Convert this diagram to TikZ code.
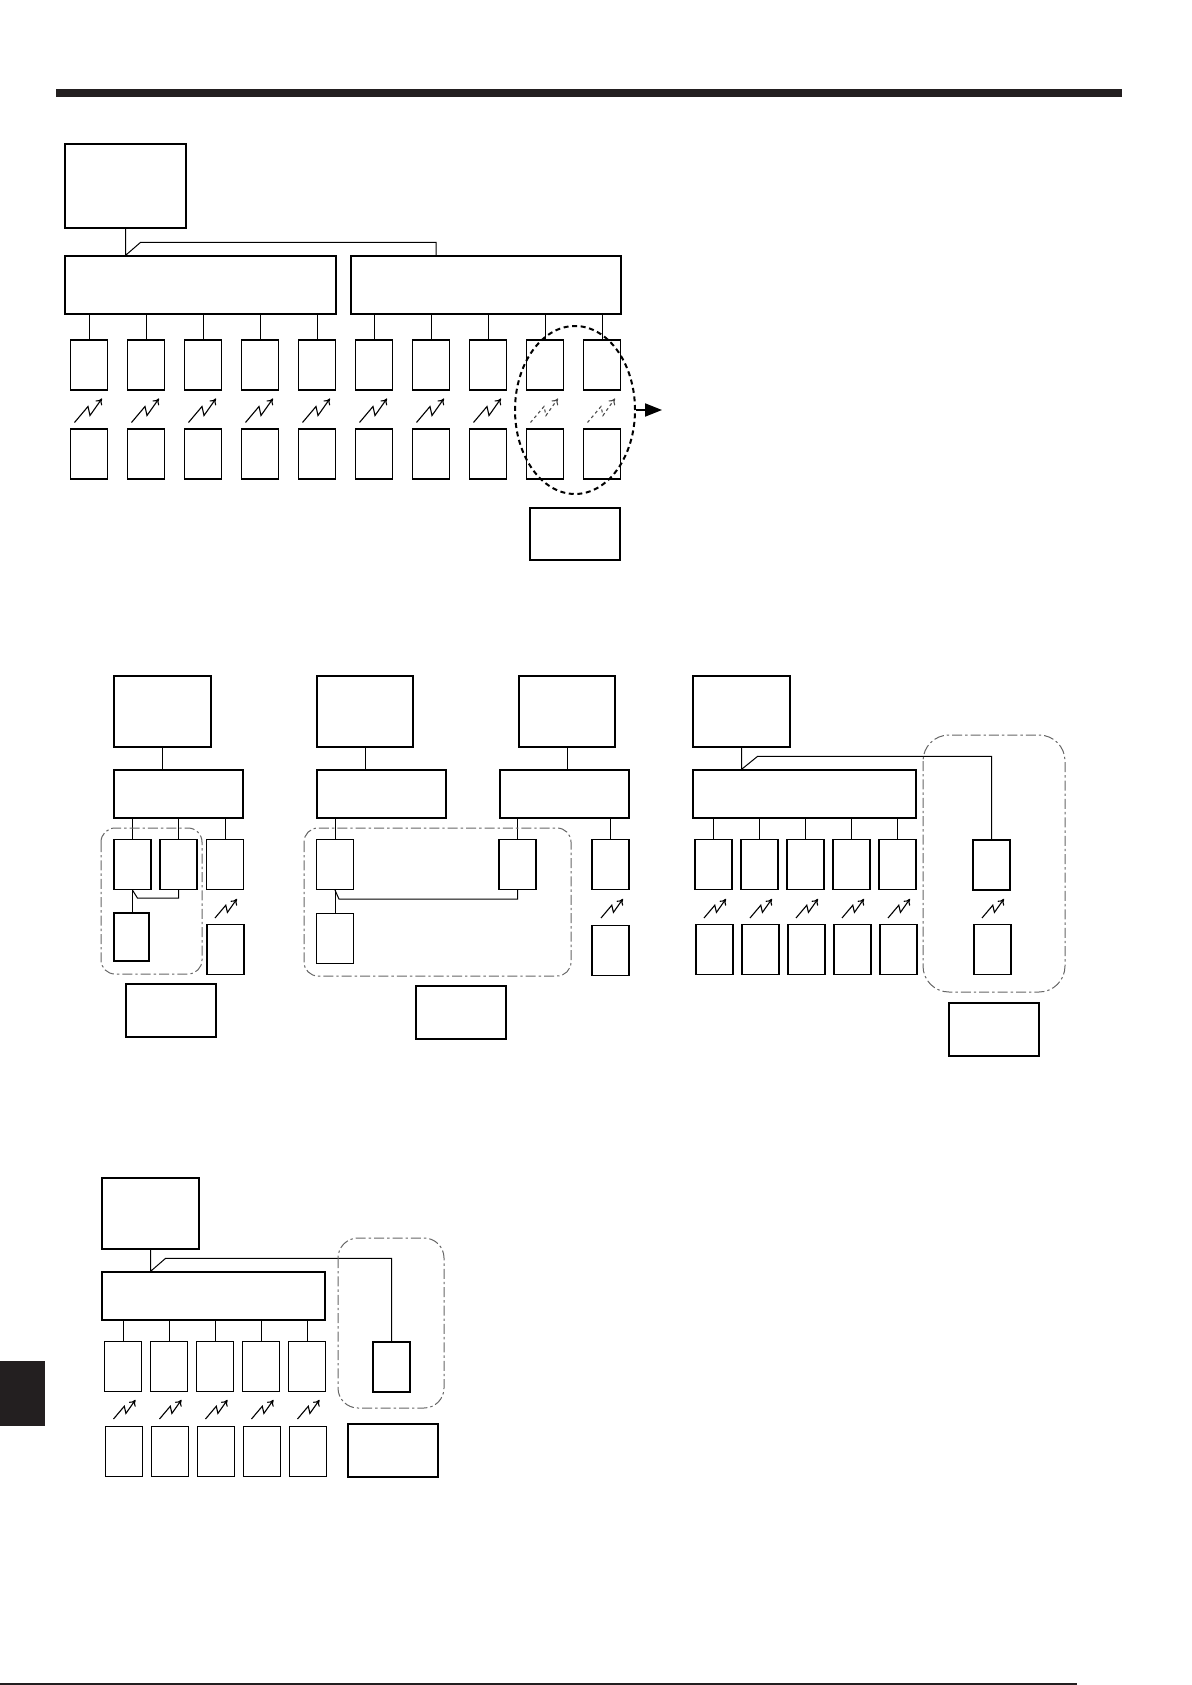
\documentclass[tikz,border=0pt]{standalone}
\usetikzlibrary{arrows.meta, shapes.geometric}
\definecolor{ink}{HTML}{231F20}
\tikzset{
    box/.style 2 args={draw, line width=0.6pt, inner sep=0pt, minimum width=#1*0.5pt, minimum height=#2*0.5pt},
    unit/.style={box={37}{50}},
    wire/.style={line width=0.5pt},
    group/.style={draw=black!60, line width=0.5pt, dash pattern=on 5pt off 1.5pt on 1.2pt off 1.5pt},
    radio/.pic={\draw[line width=0.55pt, -{To[length=3pt, width=4pt]}] (0,0) -- (13.5,-16) -- (15.5,-7) -- (27.5,-24);}
}
\begin{document}
\begin{tikzpicture}[x=0.5pt, y=-0.5pt]
\useasboundingbox (0,0) rectangle (1192,1685);
\fill[ink] (56,89) rectangle (1122,97);
\fill[ink] (0,1361) rectangle (45,1426);
\draw[ink, line width=0.8pt] (0,1684) -- (1077,1684);

\node[box={121}{84}] (ctrl1) at (125.5,186) {};
\node[box={271}{58}] (bigA) at (200.5,285) {};
\node[box={270}{58}] (bigB) at (486,285) {};
\coordinate (inB) at (436,256);
\draw[wire] (ctrl1.south) -- (ctrl1.south |- bigA.north) -- ++(15,-13) -| (inB);
\foreach \i in {0,...,9} {
    \node[unit] (u\i) at ({89+57*\i},365) {};
    \node[unit] (l\i) at ({89+57*\i},454) {};
}
\foreach \i in {0,...,4} \draw[wire] (u\i.north) -- (u\i.north |- bigA.south);
\foreach \i in {5,...,9} \draw[wire] (u\i.north) -- (u\i.north |- bigB.south);
\foreach \i in {0,...,7} \pic at ({74.5+57*\i},422.5) {radio};
\foreach \i in {8,9} \pic[black!70, dash pattern=on 1.5pt off 1.5pt] at ({74.5+57*\i},422.5) {radio};
\node[ellipse, draw, line width=1pt, dash pattern=on 2.5pt off 1.8pt, inner sep=0pt,
    minimum width=60pt, minimum height=84pt] (grp1) at (575,410) {};
\coordinate (out1) at (662,410);
\draw[line width=1pt, -{Triangle[length=8.5pt, width=6.5pt]}] (grp1.east) -- (out1);
\node[box={90}{52}] (lab1) at (575,534) {};

\node[box={97}{71}] (topA) at (162.5,711.5) {};
\node[box={129}{48}] (midA) at (178.5,794) {};
\node[unit] (A1) at (132.5,864.5) {};
\node[unit] (A2) at (178.5,864.5) {};
\node[unit] (A3) at (225,864.5) {};
\node[box={35}{48}] (A4) at (131.5,937) {};
\node[unit] (A5) at (225.5,949.5) {};
\draw[wire] (topA.south) -- (topA.south |- midA.north);
\foreach \n in {A1,A2,A3} \draw[wire] (\n.north) -- (\n.north |- midA.south);
\draw[wire] (A1.south) -- (A1.south |- A4.north);
\draw[wire] (A1.south) -- ++(5,8) -| (A2.south);
\pic[scale=0.8] at (215,918) {radio};
\draw[group, rounded corners=7pt] (101,828) rectangle (202,974);
\node[box={90}{53}] (labA) at (171,1010.5) {};

\node[box={96}{71}] (topB) at (365,711.5) {};
\node[box={129}{48}] (midB) at (381.5,794) {};
\node[box={96}{71}] (topC) at (567,711.5) {};
\node[box={129}{48}] (midC) at (564.5,794) {};
\node[unit] (B1) at (335,864.5) {};
\node[unit] (B2) at (335,938.5) {};
\node[unit] (C1) at (517.5,864.5) {};
\node[unit] (C2) at (610.5,864.5) {};
\node[unit] (C3) at (610.5,950.5) {};
\draw[wire] (topB.south) -- (topB.south |- midB.north);
\draw[wire] (topC.south) -- (topC.south |- midC.north);
\draw[wire] (B1.north) -- (B1.north |- midB.south);
\foreach \n in {C1,C2} \draw[wire] (\n.north) -- (\n.north |- midC.south);
\draw[wire] (B1.south) -- (B1.south |- B2.north);
\draw[wire] (B1.south) -- ++(4,9) -| (C1.south);
\pic[scale=0.8] at (601,918) {radio};
\draw[group, rounded corners=7pt] (304,828) rectangle (571,976);
\node[box={90}{53}] (labB) at (461,1012.5) {};

\node[box={97}{71}] (topD) at (741.5,711.5) {};
\node[box={223}{48}] (midD) at (804.5,794) {};
\foreach \i in {0,...,4} {
    \node[unit] (Du\i) at ({713.5+46*\i},864.5) {};
    \node[unit] (Dl\i) at ({714.5+46*\i},949.5) {};
    \draw[wire] (Du\i.north) -- (Du\i.north |- midD.south);
    \pic[scale=0.8] at ({704+46*\i},918) {radio};
}
\node[unit] (D6u) at (991.5,865) {};
\node[unit] (D6l) at (992.5,949.5) {};
\draw[wire] (topD.south) -- (topD.south |- midD.north) -- ++(16,-13) -| (D6u.north);
\pic[scale=0.8] at (982,918) {radio};
\draw[group, rounded corners=13pt] (923,735) rectangle (1065,992);
\node[box={90}{53}] (labD) at (994,1029.5) {};

\node[box={97}{71}] (topE) at (150.5,1213.5) {};
\node[box={223}{48}] (midE) at (213.5,1296) {};
\foreach \i in {0,...,4} {
    \node[unit] (Eu\i) at ({123+46*\i},1366.5) {};
    \node[unit] (El\i) at ({124+46*\i},1451.5) {};
    \draw[wire] (Eu\i.north) -- (Eu\i.north |- midE.south);
    \pic[scale=0.8] at ({113.5+46*\i},1419) {radio};
}
\node[unit] (E6) at (391.5,1367) {};
\draw[wire] (topE.south) -- (topE.south |- midE.north) -- ++(15,-13) -| (E6.north);
\draw[group, rounded corners=10pt] (338,1238) rectangle (444,1408);
\node[box={90}{53}] (labE) at (393,1450.5) {};
\end{tikzpicture}
\end{document}
